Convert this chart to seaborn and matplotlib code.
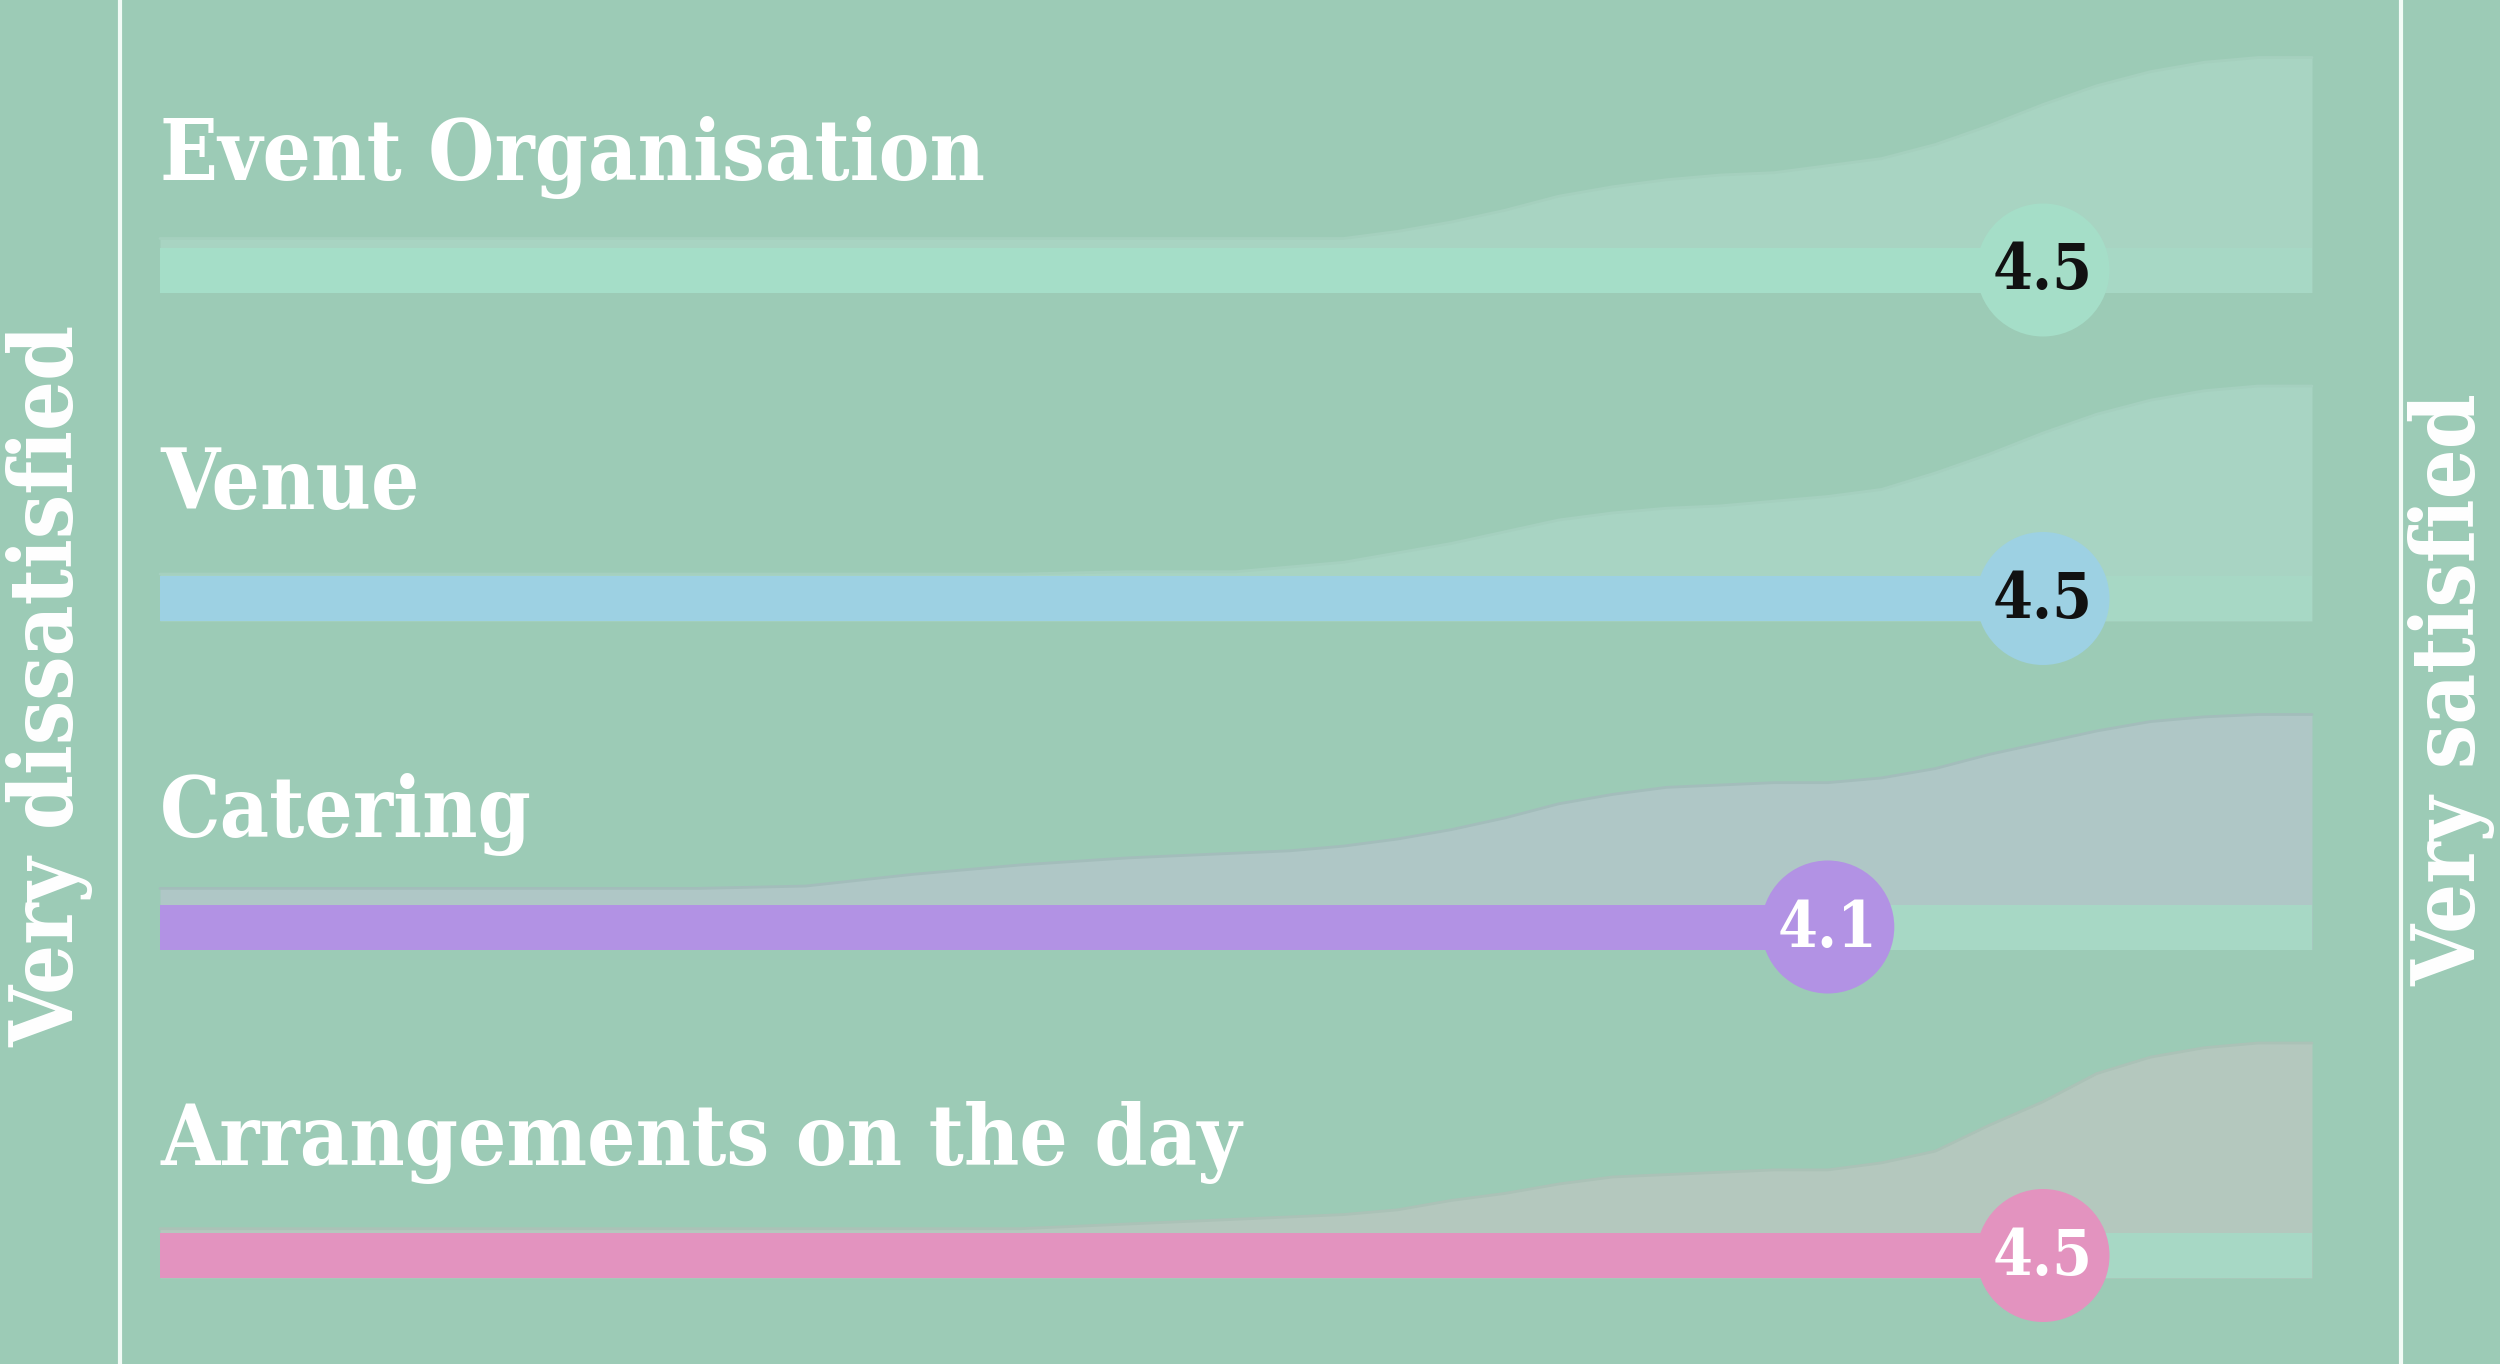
import numpy as np
import matplotlib
matplotlib.use("Agg")
import matplotlib.pyplot as plt
import seaborn as sns

# Dados
categories = ["Event Organisation", "Venue", "Catering", "Arrangements on the day"]
means = [4.5, 4.5, 4.1, 4.5]
mean_labels = ["4.5", "4.5", "4.1", "4.5"]
left_label = "Very dissatisfied"
right_label = "Very satisfied"
scale_min, scale_max = 1, 5

# pontos da curva de distribuicao (nota -> altura relativa em %)
rating_grid = [1.0, 1.5, 2.0, 2.2, 2.4, 2.6, 2.8,
               3.0, 3.1, 3.2, 3.3, 3.4, 3.5, 3.6, 3.7, 3.8, 3.9,
               4.0, 4.1, 4.2, 4.3, 4.4, 4.5, 4.6, 4.7, 4.8, 4.9, 5.0]
dist_organisation = [23, 23, 23, 23, 23, 23, 23,
                     23, 23, 23, 26, 30, 35, 41, 45, 48, 50,
                     51, 54, 57, 63, 71, 80, 88, 94, 98, 100, 100]
dist_venue = [20, 20, 20, 20, 20, 20, 21,
              21, 23, 25, 29, 33, 38, 43, 46, 48, 49,
              51, 53, 56, 63, 71, 80, 88, 94, 98, 100, 100]
dist_catering = [26, 26, 26, 27, 32, 36, 39,
                 41, 42, 44, 47, 51, 56, 62, 66, 69, 70,
                 71, 71, 73, 77, 83, 88, 93, 97, 99, 100, 100]
dist_arrangements = [21, 21, 21, 21, 21, 21, 23,
                     25, 26, 27, 29, 33, 36, 40, 43, 44, 45,
                     46, 46, 49, 54, 65, 75, 87, 94, 98, 100, 100]
distributions = [dist_organisation, dist_venue, dist_catering, dist_arrangements]

# Estilo
BG = "#9ccbb6"
TRACK = "#a7d8c5"
bar_colors = ["#a5dec8", "#9dd1e3", "#b292e4", "#e393bf"]
fill_colors = ["#a8d4c2", "#a8d4c3", "#afc7c6", "#b4c8be"]
edge_colors = ["#a5d0be", "#a5d0bf", "#a3bdbb", "#abc2b7"]
num_colors = ["#111111", "#111111", "white", "white"]
LINE = "#f2fbf6"

W, H = 2500, 1364
PX_PER_UNIT = 538.0
X_START_PX = 160.0
ROW0 = 270.0
ROW_GAP = 328.5
BAR_H = 45.0
DENS_MAX = 235.0

sns.set_theme(style="white", rc={"axes.facecolor": BG, "figure.facecolor": BG})
plt.rcParams["font.family"] = ["DejaVu Serif", "DejaVu Sans"]

fig = plt.figure(figsize=(W / 100, H / 100), dpi=100)
ax = fig.add_axes([0, 0, 1, 1])
ax.set_xlim(scale_min - X_START_PX / PX_PER_UNIT,
            scale_min + (W - X_START_PX) / PX_PER_UNIT)
ax.set_ylim(H, 0)
ax.axis("off")

grid = np.array(rating_grid)
for i, cat in enumerate(categories):
    yc = ROW0 + i * ROW_GAP
    base = yc + BAR_H / 2
    top = base - np.array(distributions[i]) / 100.0 * DENS_MAX

    ax.fill_between(grid, base, top, color=fill_colors[i], lw=0, zorder=1)
    sns.lineplot(x=grid, y=top, ax=ax, color=edge_colors[i], lw=2, zorder=2,
                 sort=False, estimator=None)

    ax.barh(yc, scale_max - scale_min, left=scale_min, height=BAR_H,
            color=TRACK, lw=0, zorder=3)
    ax.barh(yc, means[i] - scale_min, left=scale_min, height=BAR_H,
            color=bar_colors[i], lw=0, zorder=4)

    sns.scatterplot(x=[means[i]], y=[yc], ax=ax, s=9170, color=bar_colors[i],
                    edgecolor="none", zorder=5, legend=False)
    ax.text(means[i], yc + 2, mean_labels[i], ha="center", va="center",
            fontsize=46, fontweight="bold", fontstretch="condensed",
            color=num_colors[i], zorder=6)

    ax.text(scale_min, yc - 90, cat, ha="left", va="baseline", fontsize=61,
            fontweight="bold", fontstretch="condensed", color="white", zorder=6)

# linhas verticais
x_left = scale_min + (120 - X_START_PX) / PX_PER_UNIT
x_right = scale_min + (2401 - X_START_PX) / PX_PER_UNIT
ax.axvline(x_left, color=LINE, lw=3, zorder=2)
ax.axvline(x_right, color=LINE, lw=3, zorder=2)

fig.text(50 / W, 1 - 686 / H, left_label, rotation=90, ha="center", va="center",
         fontsize=63, fontweight="bold", fontstretch="condensed", color="white")
fig.text(2452 / W, 1 - 690 / H, right_label, rotation=90, ha="center", va="center",
         fontsize=63, fontweight="bold", fontstretch="condensed", color="white")

fig.savefig("out.png", dpi=100, facecolor=BG)
